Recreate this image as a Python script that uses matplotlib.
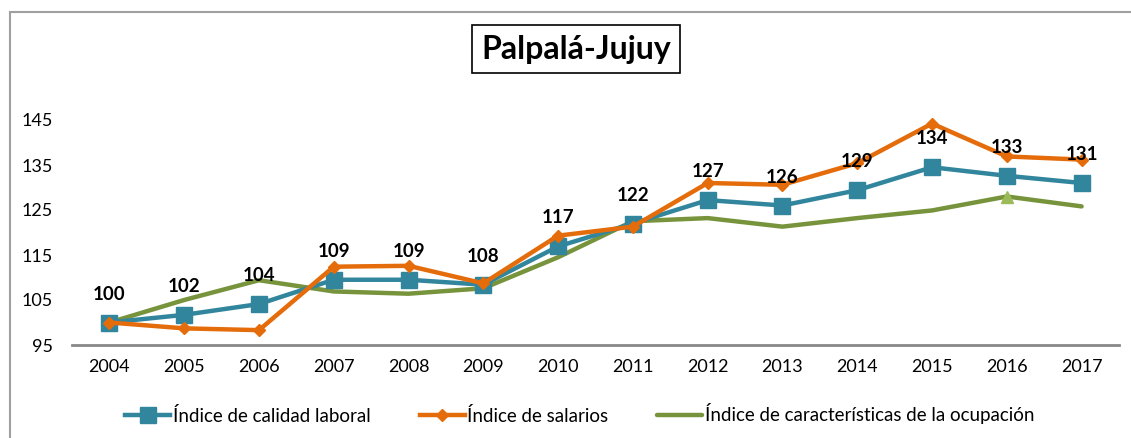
import matplotlib
matplotlib.use("Agg")
import matplotlib.pyplot as plt
from matplotlib.patches import Rectangle

years = ["2004", "2005", "2006", "2007", "2008", "2009", "2010",
         "2011", "2012", "2013", "2014", "2015", "2016", "2017"]
calidad = [100.0, 101.7, 104.1, 109.5, 109.5, 108.4, 116.9,
           122.0, 127.2, 126.0, 129.4, 134.5, 132.6, 131.0]
salarios = [100.0, 98.7, 98.3, 112.4, 112.6, 108.7, 119.3,
            121.3, 131.0, 130.6, 135.4, 144.2, 136.9, 136.2]
caracteristicas = [100.0, 105.0, 109.4, 106.9, 106.4, 107.6, 114.5,
                   122.5, 123.2, 121.3, 123.2, 124.9, 128.0, 125.8]
labels = ["100", "102", "104", "109", "109", "108", "117",
          "122", "127", "126", "129", "134", "133", "131"]
yticks = [95, 105, 115, 125, 135, 145]

plt.rcParams['font.family'] = ['Lato', 'DejaVu Sans']

W, H = 1131, 438
fig = plt.figure(figsize=(W / 100, H / 100), dpi=100)
ax = fig.add_axes([72 / W, 93 / H, (1119 - 72) / W, 270 / H])

x = list(range(len(years)))
c_blue, c_orange, c_green = "#31859C", "#E46C0A", "#77933C"

ax.plot(x, caracteristicas, color=c_green, lw=3.2, solid_capstyle='round',
        label="Índice de características de la ocupación", zorder=2)
ax.plot(x[12:13], caracteristicas[12:13], linestyle='none', marker='^',
        color="#9BBB59", markersize=9, zorder=2.5)
ax.plot(x, calidad, color=c_blue, lw=3.2, marker='s', markersize=11,
        label="Índice de calidad laboral", zorder=3)
ax.plot(x, salarios, color=c_orange, lw=3.2, marker='D', markersize=6,
        label="Índice de salarios", zorder=4)

for xi, yi, lab in zip(x, calidad, labels):
    ax.annotate(lab, (xi, yi), xytext=(0, 20.5), textcoords='offset points',
                ha='center', va='center', fontsize=13.5, fontweight='bold',
                color='black', zorder=6)

ax.set_xlim(-0.5, len(years) - 0.5)
ax.set_ylim(95, 155)
ax.set_xticks(x)
ax.set_xticklabels(years, fontsize=13)
ax.set_yticks(yticks)
ax.set_yticklabels([str(t) for t in yticks], fontsize=13)
ax.tick_params(axis='both', length=0)
ax.tick_params(axis='x', pad=10)
ax.tick_params(axis='y', pad=14)
for s in ['top', 'right', 'left']:
    ax.spines[s].set_visible(False)
ax.spines['bottom'].set_color('#888888')
ax.spines['bottom'].set_linewidth(2)

# title in a box
fig.text(576 / W, 1 - 49 / H, "Palpalá-Jujuy", ha='center', va='center',
         fontsize=23, fontweight='bold',
         bbox=dict(boxstyle='square,pad=0.3', facecolor='white',
                   edgecolor='black', linewidth=1.2))

# chart outer border
fig.patches.append(Rectangle((10 / W, -0.1), 1.2, 1 - 12 / H + 0.1,
                             transform=fig.transFigure, fill=False,
                             edgecolor='#A0A0A0', linewidth=1.5))

h, l = ax.get_legend_handles_labels()
order = [1, 2, 0]
fig.legend([h[i] for i in order], [l[i] for i in order], loc='center',
           bbox_to_anchor=(580 / W, 24 / H), ncol=3, frameon=False,
           fontsize=13.5, handlelength=2.4, handletextpad=0.15,
           columnspacing=2.6, numpoints=1)

fig.savefig("out.png", dpi=100)
